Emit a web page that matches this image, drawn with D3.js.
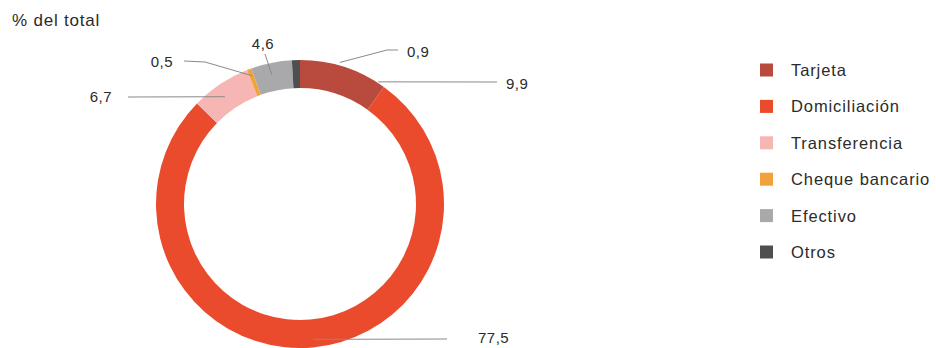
<!DOCTYPE html>
<html>
<head>
<meta charset="utf-8">
<script src="https://cdn.jsdelivr.net/npm/d3@7"></script>
<style>
  html, body { margin: 0; padding: 0; background: #fff; }
  svg { display: block; font-family: "Liberation Sans", Arial, sans-serif; }
</style>
</head>
<body>
<svg id="chart"></svg>
<script>
const categories = ['Tarjeta', 'Domiciliación', 'Transferencia', 'Cheque bancario', 'Efectivo', 'Otros'];
const values = [9.9, 77.5, 6.7, 0.5, 4.6, 0.9];
const valueLabels = ['9,9', '77,5', '6,7', '0,5', '4,6', '0,9'];
const colors = ['#b84a3e', '#ea4b2c', '#f5b6b4', '#f2a23a', '#a9a9ab', '#4f4f4f'];

const width = 936;
const height = 348;
const cx = 300;
const cy = 204;
const outerR = 144;
const innerR = 116;

// leader line layout: anchor on the ring (angle in radians, radius), elbow points, label position
const labelLayout = {
  'Tarjeta':        { angle: 0.569, r: 145, pts: [[497, 82]], tx: 506, ty: 89, anchor: 'start' },
  'Domiciliación':  { angle: 3.045, r: 136, pts: [[447, 339]], tx: 478, ty: 343, anchor: 'start' },
  'Transferencia':  { angle: 5.672, r: 131, pts: [[128, 97]], tx: 112, ty: 102, anchor: 'end' },
  'Cheque bancario':{ angle: 5.925, r: 137, pts: [[205, 62], [184, 61]], tx: 173, ty: 67, anchor: 'end' },
  'Efectivo':       { angle: 6.069, r: 132, pts: [[265, 54]], tx: 263, ty: 49, anchor: 'middle' },
  'Otros':          { angle: 0.274, r: 147, pts: [[387, 50], [398, 50]], tx: 407, ty: 57, anchor: 'start' }
};

const data = categories.map((c, i) => ({ name: c, value: values[i], label: valueLabels[i] }));

const svg = d3.select('#chart').attr('width', width).attr('height', height);

const color = d3.scaleOrdinal().domain(categories).range(colors);

const pie = d3.pie().value(d => d.value).sort(null);
const arc = d3.arc().innerRadius(innerR).outerRadius(outerR);

svg.append('text')
  .attr('x', 12)
  .attr('y', 26)
  .attr('font-size', '17px')
  .attr('letter-spacing', '0.8px')
  .attr('fill', '#2b2b2b')
  .text('% del total');

const g = svg.append('g').attr('transform', `translate(${cx},${cy})`);

g.selectAll('path.slice')
  .data(pie(data))
  .join('path')
  .attr('class', 'slice')
  .attr('d', arc)
  .attr('fill', d => color(d.data.name));

// leader lines and value labels
const lines = svg.append('g');
const line = d3.line();
data.forEach(d => {
  const l = labelLayout[d.name];
  const start = [cx + l.r * Math.sin(l.angle), cy - l.r * Math.cos(l.angle)];
  lines.append('path')
    .attr('d', line([start, ...l.pts]))
    .attr('fill', 'none')
    .attr('stroke', '#8a8a8a')
    .attr('stroke-width', 1);
  lines.append('text')
    .attr('x', l.tx)
    .attr('y', l.ty)
    .attr('text-anchor', l.anchor)
    .attr('font-size', '15px')
    .attr('letter-spacing', '0.5px')
    .attr('fill', '#2b2b2b')
    .text(d.label);
});

// legend
const legendY = d3.scalePoint().domain(categories).range([70, 252]);
const legend = svg.append('g');
const items = legend.selectAll('g')
  .data(categories)
  .join('g')
  .attr('transform', d => `translate(760,${legendY(d)})`);
items.append('rect')
  .attr('x', 0)
  .attr('y', -6.5)
  .attr('width', 13)
  .attr('height', 13)
  .attr('fill', d => color(d));
items.append('text')
  .attr('x', 31)
  .attr('y', 6)
  .attr('font-size', '16.5px')
  .attr('letter-spacing', '0.9px')
  .attr('fill', '#2b2b2b')
  .text(d => d);
</script>
</body>
</html>
